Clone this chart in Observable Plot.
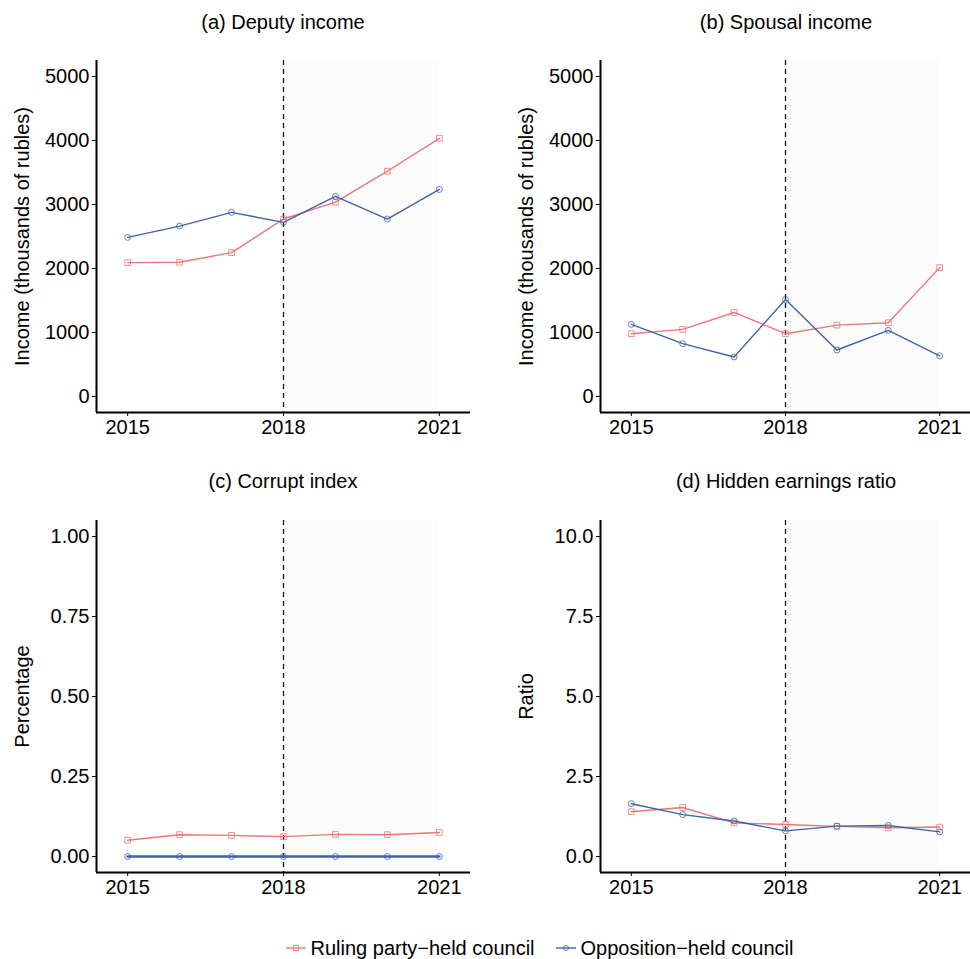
<!DOCTYPE html>
<html>
<head>
<meta charset="utf-8">
<script src="https://cdn.jsdelivr.net/npm/d3@7"></script>
<script src="https://cdn.jsdelivr.net/npm/@observablehq/plot@0.6"></script>
<style>
  html, body { margin: 0; padding: 0; background: #fff; }
  #chart { position: relative; width: 970px; height: 959px; overflow: hidden; font-family: "Liberation Sans", Arial, sans-serif; color: #000; }
  .title { position: absolute; font-size: 20px; line-height: 24px; text-align: center; }
  .panel { position: absolute; }
  .legend { position: absolute; left: 0; width: 970px; padding-left: 108px; box-sizing: border-box; top: 936px; display: flex; justify-content: center; align-items: center; font-size: 20px; line-height: 24px; }
  .legend .item { display: flex; align-items: center; margin: 0 10px; }
  .legend svg { margin-right: 4px; }
</style>
</head>
<body>
<div id="chart"></div>
<script>
// Council income and corruption indicators, 2015–2021
const years = [2015, 2016, 2017, 2018, 2019, 2020, 2021];
const treatYear = 2018;
const xTicks = [2015, 2018, 2021];
const groups = ["Ruling party\u2212held council", "Opposition\u2212held council"];
const groupColors = ["#ee7672", "#3d63ab"];

const deputyRuling      = [2092, 2098, 2248, 2773, 3037, 3520, 4034];
const deputyOpposition  = [2487, 2663, 2877, 2721, 3126, 2773, 3235];
const spousalRuling     = [981, 1049, 1313, 981, 1116, 1153, 2014];
const spousalOpposition = [1127, 826, 618, 1516, 727, 1033, 634];
const corruptRuling     = [0.051, 0.068, 0.066, 0.062, 0.069, 0.068, 0.075];
const corruptOpposition = [0, 0, 0, 0, 0, 0, 0];
const hiddenRuling      = [1.40, 1.53, 1.05, 1.00, 0.94, 0.90, 0.92];
const hiddenOpposition  = [1.65, 1.31, 1.11, 0.80, 0.95, 0.97, 0.77];

const incomeTicks  = [0, 1000, 2000, 3000, 4000, 5000];
const percentTicks = [0, 0.25, 0.5, 0.75, 1];
const ratioTicks   = [0, 2.5, 5, 7.5, 10];

const xDomain = [2014.4, 2021.6];
const fontFamily = "'Liberation Sans', Arial, sans-serif";

function panel({ruling, opposition, yDomain, yTicks, yFormat, yLabel, marginLeft, marginRight, lineWidth}) {
  const rows = years.flatMap((year, i) => [
    {year, value: ruling[i], group: groups[0]},
    {year, value: opposition[i], group: groups[1]}
  ]);
  const lastYear = years[years.length - 1];
  return Plot.plot({
    width: 485,
    height: 420,
    marginTop: 20,
    marginBottom: 48,
    marginLeft,
    marginRight,
    style: {fontFamily, fontSize: "20px", color: "#000", background: "transparent", overflow: "visible"},
    x: {domain: xDomain},
    y: {domain: yDomain},
    color: {domain: groups, range: groupColors},
    symbol: {domain: groups, range: ["square", "circle"]},
    marks: [
      // post-2018 period
      Plot.rect([treatYear], {x1: d => d, x2: () => lastYear, y1: () => yDomain[0], y2: () => yDomain[1], fill: "#fcfcfc"}),
      Plot.ruleX([treatYear], {stroke: "#111", strokeWidth: 1.3, strokeDasharray: "5,4"}),
      Plot.line(rows, {x: "year", y: "value", z: "group", stroke: "group", strokeWidth: d => d.group === groups[1] ? lineWidth : 1.4}),
      Plot.dot(rows, {x: "year", y: "value", stroke: "group", symbol: "group", r: d => d.group === groups[0] ? 2.9 : 2.5, fill: "none", strokeWidth: 1, strokeOpacity: 0.8}),
      Plot.ruleX([xDomain[0]], {stroke: "#000", strokeWidth: 2}),
      Plot.ruleY([yDomain[0]], {stroke: "#000", strokeWidth: 2}),
      Plot.axisX({ticks: xTicks, tickFormat: d => String(d), tickSize: 4, tickPadding: 3, label: null, fontSize: 20}),
      Plot.axisY({ticks: yTicks, tickFormat: yFormat, tickSize: 4, tickPadding: 3, label: null, fontSize: 20}),
      // y-axis title, rotated and centred on the frame
      Plot.text([yLabel], {text: d => d, frameAnchor: "left", textAnchor: "middle", rotate: -90, dx: -74, fontSize: 20, fill: "#000"})
    ]
  });
}

const chart = document.getElementById("chart");

function place(node, left, top) {
  node.classList.add("panel");
  node.style.left = left + "px";
  node.style.top = top + "px";
  chart.appendChild(node);
}

function title(text, center, top) {
  const el = document.createElement("div");
  el.className = "title";
  el.textContent = text;
  el.style.left = (center - 200) + "px";
  el.style.width = "400px";
  el.style.top = top + "px";
  chart.appendChild(el);
}

const incomeFmt = d => String(d);
const pctFmt = d3.format(".2f");
const ratioFmt = d3.format(".1f");

place(panel({ruling: deputyRuling, opposition: deputyOpposition, yDomain: [-250, 5250], yTicks: incomeTicks, yFormat: incomeFmt, yLabel: "Income (thousands of rubles)", marginLeft: 96, marginRight: 15, lineWidth: 1.4}), 0, 40);
place(panel({ruling: spousalRuling, opposition: spousalOpposition, yDomain: [-250, 5250], yTicks: incomeTicks, yFormat: incomeFmt, yLabel: "Income (thousands of rubles)", marginLeft: 115, marginRight: 0, lineWidth: 1.4}), 485, 40);
place(panel({ruling: corruptRuling, opposition: corruptOpposition, yDomain: [-0.05, 1.05], yTicks: percentTicks, yFormat: pctFmt, yLabel: "Percentage", marginLeft: 96, marginRight: 15, lineWidth: 2.6}), 0, 500);
place(panel({ruling: hiddenRuling, opposition: hiddenOpposition, yDomain: [-0.5, 10.5], yTicks: ratioTicks, yFormat: ratioFmt, yLabel: "Ratio", marginLeft: 115, marginRight: 0, lineWidth: 1.4}), 485, 500);

title("(a) Deputy income", 283, 10);
title("(b) Spousal income", 786, 10);
title("(c) Corrupt index", 283, 469);
title("(d) Hidden earnings ratio", 786, 469);

// legend
const legend = document.createElement("div");
legend.className = "legend";
groups.forEach((g, i) => {
  const item = document.createElement("div");
  item.className = "item";
  const svg = d3.create("svg").attr("width", 22).attr("height", 14);
  svg.append("line").attr("x1", 1).attr("x2", 21).attr("y1", 7).attr("y2", 7).attr("stroke", groupColors[i]).attr("stroke-width", 1.4);
  if (i === 0) svg.append("rect").attr("x", 8.5).attr("y", 4.5).attr("width", 5).attr("height", 5).attr("fill", "none").attr("stroke", groupColors[i]).attr("stroke-opacity", 0.8);
  else svg.append("circle").attr("cx", 11).attr("cy", 7).attr("r", 2.5).attr("fill", "none").attr("stroke", groupColors[i]).attr("stroke-opacity", 0.8);
  item.appendChild(svg.node());
  const label = document.createElement("span");
  label.textContent = g;
  item.appendChild(label);
  legend.appendChild(item);
});
chart.appendChild(legend);
</script>
</body>
</html>
